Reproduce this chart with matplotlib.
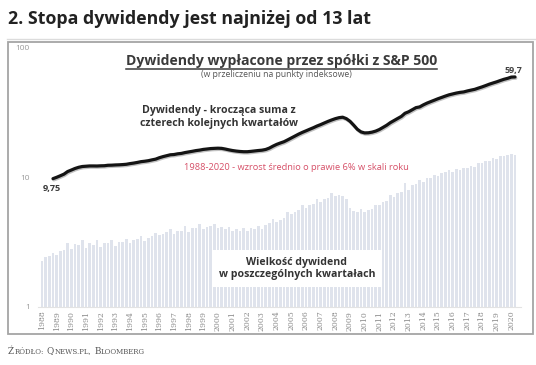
import numpy as np
import matplotlib
matplotlib.use('Agg')
import matplotlib.pyplot as plt
import matplotlib.patheffects as pe
from matplotlib.lines import Line2D
from matplotlib.patches import Rectangle

# lata na osi X (etykiety co 4 kwartaly)
years = list(range(1988, 2021))

# dywidenda w poszczegolnych kwartalach (Q1 1988 - Q2 2020)
quarterly = [
    2.26, 2.42, 2.45, 2.60,
    2.50, 2.70, 2.75, 3.10,
    2.80, 3.02, 3.00, 3.27,
    2.86, 3.08, 3.00, 3.26,
    2.90, 3.10, 3.10, 3.28,
    2.95, 3.13, 3.15, 3.35,
    3.10, 3.25, 3.30, 3.53,
    3.20, 3.38, 3.50, 3.71,
    3.55, 3.66, 3.74, 3.95,
    3.62, 3.85, 3.85, 4.18,
    3.80, 4.03, 4.05, 4.32,
    4.00, 4.15, 4.18, 4.38,
    4.05, 4.10, 3.98, 4.14,
    3.85, 3.95, 3.87, 4.07,
    3.85, 4.05, 3.99, 4.19,
    3.95, 4.25, 4.40, 4.79,
    4.50, 4.70, 4.82, 5.42,
    5.18, 5.40, 5.55, 6.09,
    5.80, 6.05, 6.20, 6.83,
    6.45, 6.80, 6.95, 7.53,
    7.10, 7.30, 7.20, 6.79,
    5.80, 5.50, 5.40, 5.71,
    5.40, 5.55, 5.65, 6.13,
    6.05, 6.45, 6.60, 7.33,
    7.05, 7.50, 7.65, 9.05,
    7.90, 8.70, 8.90, 9.49,
    9.20, 9.85, 9.90, 10.49,
    10.25, 10.80, 10.90, 11.44,
    10.95, 11.50, 11.45, 11.80,
    11.75, 12.20, 12.10, 12.88,
    12.80, 13.40, 13.40, 14.01,
    13.90, 14.70, 14.65, 14.99,
    15.20, 14.85,
]

# kroczaca suma z czterech kwartalow (Q4 1988 - Q2 2020)
rolling_start = 3
rolling = [
    9.75,
    9.99, 10.27, 10.57, 11.07,
    11.37, 11.69, 11.94, 12.11,
    12.17, 12.23, 12.23, 12.22,
    12.26, 12.28, 12.38, 12.40,
    12.45, 12.48, 12.53, 12.60,
    12.75, 12.87, 13.02, 13.20,
    13.30, 13.43, 13.63, 13.81,
    14.16, 14.44, 14.68, 14.92,
    14.99, 15.18, 15.29, 15.52,
    15.70, 15.88, 16.08, 16.22,
    16.42, 16.54, 16.67, 16.73,
    16.78, 16.73, 16.53, 16.29,
    16.09, 15.94, 15.83, 15.76,
    15.76, 15.86, 15.98, 16.10,
    16.20, 16.40, 16.81, 17.41,
    17.96, 18.41, 18.83, 19.46,
    20.14, 20.84, 21.57, 22.24,
    22.86, 23.51, 24.16, 24.90,
    25.55, 26.30, 27.05, 27.75,
    28.40, 28.90, 29.15, 28.41,
    27.11, 25.31, 23.51, 22.43,
    22.03, 22.08, 22.33, 22.75,
    23.40, 24.30, 25.25, 26.45,
    27.45, 28.50, 29.55, 31.27,
    32.12, 33.32, 34.57, 35.01,
    36.31, 37.46, 38.46, 39.46,
    40.51, 41.46, 42.46, 43.41,
    44.11, 44.81, 45.36, 45.72,
    46.52, 47.22, 47.87, 48.95,
    50.00, 51.20, 52.50, 53.63,
    54.73, 56.03, 57.28, 58.26,
    59.56, 59.70,
]

W, H = 536, 365
def fx(px): return px / W
def fy(py): return 1 - py / H

plt.rcParams['font.family'] = ['Open Sans', 'DejaVu Sans']
fig = plt.figure(figsize=(W / 100, H / 100), dpi=100)
fig.patch.set_facecolor('white')

ax = fig.add_axes([fx(38.3), fy(306.5), (520.5 - 38.3) / W, (306.5 - 48) / H])
xq = np.arange(len(quarterly))
ax.bar(xq, quarterly, width=0.72, color='#dfe3ec', log=True, zorder=1)
xr = np.arange(rolling_start, rolling_start + len(rolling))
ax.plot(xr, rolling, color='#141414', lw=2.3, solid_capstyle='round', zorder=3,
        path_effects=[pe.SimpleLineShadow(offset=(0.6, -0.9), shadow_color='#777', alpha=0.45),
                      pe.Normal()])

ax.set_yscale('log')
ax.set_ylim(1, 100)
ax.set_xlim(-1, 130.5)
ax.set_yticks([1, 10, 100])
ax.set_yticklabels(['1', '10', '100'])
ax.yaxis.set_minor_locator(matplotlib.ticker.NullLocator())
ax.tick_params(axis='y', length=0, labelsize=6, labelcolor='#9a9a9a', pad=6)
ax.set_xticks(np.arange(0, 4 * len(years), 4))
ax.set_xticklabels([str(y) for y in years], rotation=90, fontsize=5.6,
                   family='DejaVu Serif', color='#8c8c8c')
ax.tick_params(axis='x', length=0, pad=3)
for s in ['top', 'right', 'left']:
    ax.spines[s].set_visible(False)
ax.spines['bottom'].set_color('#e3e3e3')
ax.spines['bottom'].set_linewidth(0.8)

# ramka wykresu i linia pod tytulem
fig.add_artist(Rectangle((fx(8), fy(334)), (533 - 8) / W, (334 - 42) / H,
                         transform=fig.transFigure, fill=False,
                         edgecolor='#a5a5a5', lw=1.3))
fig.add_artist(Line2D([fx(7), 1], [fy(38.5), fy(38.5)], color='#dcdcdc', lw=1))

fig.text(fx(8), fy(18.5), '2. Stopa dywidendy jest najniżej od 13 lat',
         fontsize=12.8, weight='bold', color='#222222', va='center')

head = fig.text(fx(281.5), fy(65.5), 'Dywidendy wypłacone przez spółki z S&P 500',
                fontsize=10.1, weight='bold', color='#3a3a3a', ha='center', va='baseline')
fig.text(fx(276), fy(74.5), '(w przeliczeniu na punkty indeksowe)',
         fontsize=6.2, color='#555555', ha='center', va='center')
fig.text(fx(219), fy(117), 'Dywidendy - krocząca suma z\nczterech kolejnych kwartałów',
         fontsize=7.6, weight='bold', color='#333333', ha='center', va='center',
         multialignment='center', linespacing=1.2)
fig.text(fx(296), fy(167.5), '1988-2020 - wzrost średnio o prawie 6% w skali roku',
         fontsize=6.7, color='#d65068', ha='center', va='center')
fig.text(fx(52), fy(189), '9,75', fontsize=6.6, weight='bold', color='#3a3a3a',
         ha='center', va='center')
fig.text(fx(513), fy(70), '59,7', fontsize=6.4, weight='bold', color='#444444',
         ha='center', va='center')
fig.text(fx(297), fy(268.5), 'Wielkość dywidend\nw poszczególnych kwartałach',
         fontsize=7.6, weight='bold', color='#333333', ha='center', va='center',
         multialignment='center', linespacing=1.2,
         bbox=dict(facecolor='white', edgecolor='none', pad=4.5))

fig.canvas.draw()
renderer = fig.canvas.get_renderer()
bb = head.get_window_extent(renderer)
fig.add_artist(Line2D([bb.x0 / W, bb.x1 / W], [fy(68.5), fy(68.5)], color='#3a3a3a', lw=1.1))

# zrodlo - imitacja kapitalikow
def small_caps(x_px, y_px, s, big, small, color):
    x = x_px
    runs = []
    for ch in s:
        kind = 'sp' if ch == ' ' else ('big' if ch.isupper() else 'small')
        if runs and runs[-1][0] == kind:
            runs[-1][1] += ch
        else:
            runs.append([kind, ch])
    for kind, txt in runs:
        if kind == 'sp':
            x += 2.6 * len(txt)
            continue
        t = fig.text(x / W, fy(y_px), txt.upper(), fontsize=big if kind == 'big' else small,
                     family='DejaVu Serif', color=color, ha='left', va='baseline')
        x += t.get_window_extent(renderer).width + 0.4

small_caps(8, 353.5, 'Źródło: Qnews.pl, Bloomberg', 6.4, 5.0, '#555555')

fig.savefig('out.png', dpi=100)
